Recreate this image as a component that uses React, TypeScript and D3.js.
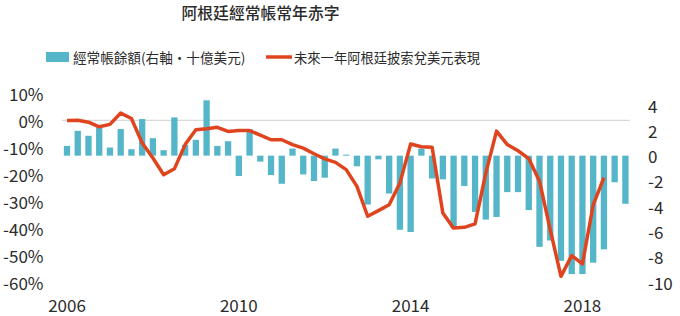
import React from "react";
import * as d3 from "d3";

const quarters: string[] = [];
for (let y = 2006; y <= 2019; y++) for (let q = 1; q <= 4; q++) if (!(y === 2019 && q > 1)) quarters.push(`${y}Q${q}`);

const currentAccount = [
  0.77, 1.96, 1.57, 2.23, 0.64, 2.1, 0.51, 2.89, 1.38, 0.43, 3.02, 0.85, 1.25, 4.37, 0.77, 1.14,
  -1.61, 2.1, -0.47, -1.53, -2.22, 0.56, -1.48, -2.0, -1.74, 0.56, 0.08, -0.84, -3.86, -0.29, -2.99, -5.85,
  -6.03, 0.55, -1.8, -1.87, -5.7, -2.4, -4.44, -5.05, -4.84, -2.88, -2.88, -4.3, -7.2, -6.7, -8.3, -9.35,
  -9.35, -8.45, -7.4, -2.1, -3.8,
];

const pesoReturn = [
  -0.1, 0.0, -0.7, -2.4, -1.5, 2.7, 0.7, -8.4, -14, -20.2, -18, -9, -3.5, -3.1, -2.6, -4.1,
  -3.8, -3.8, -5.5, -7.2, -7.2, -9, -10.3, -12.4, -14.3, -15.6, -18.3, -24.5, -35.6, -33.5, -31.3, -23.3,
  -8.8, -9.8, -10, -34.4, -40, -39.7, -38.4, -19.6, -4, -9, -11.3, -14.2, -22.6, -40.6, -57.9, -50.2,
  -53.3, -31.4, -21.3,
];

const leftTicks = [10, 0, -10, -20, -30, -40, -50, -60];
const rightTicks = [4, 2, 0, -2, -4, -6, -8, -10];
const yearLabels = ["2006", "2010", "2014", "2018"];

const title = "阿根廷經常帳常年赤字";
const legendBar = "經常帳餘額(右軸・十億美元)";
const legendLine = "未來一年阿根廷披索兌美元表現";

const FONT = "'Noto Sans CJK TC', 'Noto Sans', sans-serif";
const BAR = "#54b6c8";
const LINE = "#e0441e";
const TXT = "#2b2b2b";

export default function App() {
  const x = d3.scaleLinear().domain([0, quarters.length - 1]).range([67, 625.4]);
  const yL = d3.scaleLinear().domain([-60, 10]).range([282, 93.4]);
  const yR = d3.scaleLinear().domain([-10, 4]).range([282.3, 105]);
  const bw = 6.3;
  const line = d3
    .line<number>()
    .x((_, i) => x(i))
    .y((d) => yL(d))
    .curve(d3.curveLinear);

  return (
    <div style={{ position: "fixed", left: 0, top: 0 }}>
      <svg width={680} height={316} style={{ display: "block", background: "#fff" }} fontFamily={FONT}>
        <text x={260.5} y={18.5} textAnchor="middle" fontSize={15.8} fontWeight={500} fill={TXT}>
          {title}
        </text>
        {/* legend */}
        <rect x={46} y={52} width={23} height={10} fill={BAR} />
        <text x={73} y={57} dominantBaseline="central" fontSize={13.6} fill={TXT}>
          {legendBar}
        </text>
        <line x1={266} x2={292} y1={57} y2={57} stroke={LINE} strokeWidth={3.5} />
        <text x={294} y={57} dominantBaseline="central" fontSize={13.3} fill={TXT}>
          {legendLine}
        </text>
        {/* gridline */}
        <line x1={62} x2={630} y1={yL(0)} y2={yL(0)} stroke="#d9d9d9" strokeWidth={1.2} />
        {/* bars */}
        {currentAccount.map((v, i) => (
          <rect
            key={i}
            x={x(i) - bw / 2}
            y={Math.min(yR(v), yR(0))}
            width={bw}
            height={Math.abs(yR(v) - yR(0))}
            fill={BAR}
          />
        ))}
        {/* line */}
        <path d={line(pesoReturn) || ""} fill="none" stroke={LINE} strokeWidth={3.5} strokeLinejoin="round" />
        {/* left axis */}
        {leftTicks.map((t) => (
          <text key={t} x={43.5} y={yL(t)} textAnchor="end" dominantBaseline="central" fontSize={17} fill={TXT}>
            {`${t}%`}
          </text>
        ))}
        {/* right axis */}
        {rightTicks.map((t) => (
          <text key={t} x={648} y={yR(t)} textAnchor="start" dominantBaseline="central" fontSize={17} fill={TXT}>
            {`${t}`}
          </text>
        ))}
        {/* x axis */}
        {yearLabels.map((yl) => (
          <text
            key={yl}
            x={x(quarters.indexOf(`${yl}Q1`))}
            y={312}
            textAnchor="middle"
            fontSize={17}
            fill={TXT}
          >
            {yl}
          </text>
        ))}
      </svg>
    </div>
  );
}
